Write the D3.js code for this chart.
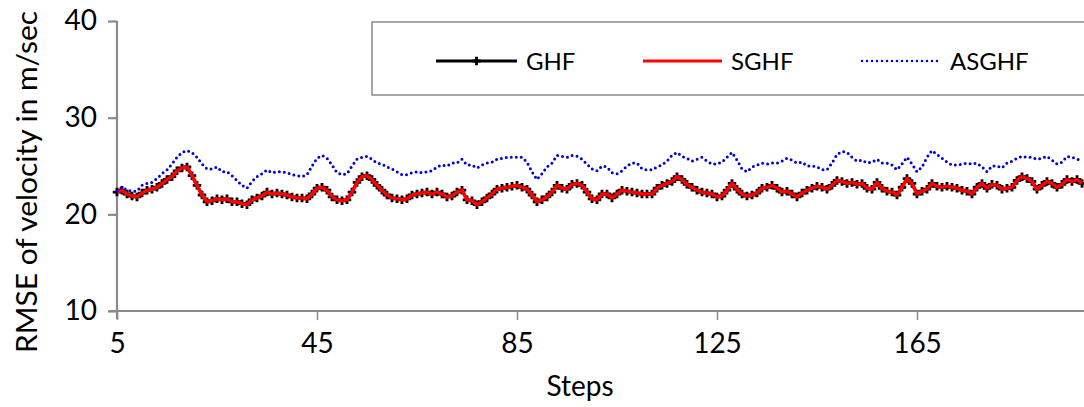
<!DOCTYPE html>
<html>
<head>
<meta charset="utf-8">
<script src="https://cdn.jsdelivr.net/npm/d3@7"></script>
<style>
  html, body { margin: 0; padding: 0; background: #fff; }
  svg { display: block; }
  text { font-family: Lato, "Open Sans", sans-serif; fill: #000; }
</style>
</head>
<body>
<svg id="chart" width="1084" height="407"></svg>
<script>
// Steps 5..198
const stepStart = 5;
const xTicks = [5, 45, 85, 125, 165];
const yTicks = [10, 20, 30, 40];
const seriesNames = ["GHF", "SGHF", "ASGHF"];

const ghf = [
  22.3, 22.5, 22.1, 21.9, 21.8, 22.2, 22.5, 22.6, 22.8, 23.2,
  23.6, 23.9, 24.5, 24.8, 24.9, 24.0, 23.0, 22.0, 21.3, 21.4,
  21.6, 21.5, 21.6, 21.3, 21.3, 21.1, 21.0, 21.5, 21.7, 21.9,
  22.3, 22.1, 22.2, 22.1, 22.0, 21.8, 21.7, 21.7, 21.6, 22.1,
  22.7, 22.8, 22.5, 21.8, 21.5, 21.4, 21.5, 22.3, 23.3, 23.9,
  24.0, 23.6, 23.0, 22.5, 22.0, 21.7, 21.6, 21.5, 21.6, 22.0,
  22.1, 22.2, 22.3, 22.1, 22.3, 22.1, 21.8, 21.9, 22.3, 22.5,
  21.5, 21.4, 21.0, 21.3, 21.7, 22.1, 22.6, 22.7, 22.8, 22.9,
  23.0, 22.8, 22.6, 22.0, 21.3, 21.5, 21.8, 22.3, 23.0, 22.7,
  22.6, 23.1, 23.2, 23.0, 22.3, 21.6, 21.5, 22.1, 22.1, 21.7,
  22.1, 22.5, 22.4, 22.3, 22.2, 22.1, 22.1, 22.1, 22.7, 23.0,
  23.2, 23.4, 23.9, 23.6, 23.1, 22.8, 22.5, 22.3, 22.2, 22.1,
  21.8, 21.9, 22.5, 23.2, 22.6, 22.1, 21.9, 22.0, 22.2, 22.7,
  22.8, 23.0, 22.7, 22.3, 22.4, 22.1, 21.8, 22.2, 22.5, 22.7,
  22.9, 22.8, 22.6, 23.0, 23.5, 23.4, 23.2, 23.3, 23.1, 23.2,
  22.7, 22.6, 23.3, 22.7, 22.4, 22.3, 22.0, 22.8, 23.7, 23.2,
  22.1, 22.4, 22.6, 23.2, 22.9, 22.8, 22.9, 22.8, 22.7, 22.5,
  22.4, 22.1, 22.8, 23.2, 22.7, 23.1, 23.0, 22.6, 22.7, 22.8,
  23.5, 23.9, 23.7, 23.4, 22.6, 23.0, 23.4, 23.2, 22.8, 23.1,
  23.6, 23.4, 23.6, 23.2
];

const sghf = [
  22.3, 22.5, 22.1, 21.9, 21.8, 22.2, 22.5, 22.6, 22.8, 23.2,
  23.6, 23.9, 24.5, 24.8, 24.9, 24.0, 23.0, 22.0, 21.3, 21.4,
  21.6, 21.5, 21.6, 21.3, 21.3, 21.1, 21.0, 21.5, 21.7, 21.9,
  22.3, 22.1, 22.2, 22.1, 22.0, 21.8, 21.7, 21.7, 21.6, 22.1,
  22.7, 22.8, 22.5, 21.8, 21.5, 21.4, 21.5, 22.3, 23.3, 23.9,
  24.0, 23.6, 23.0, 22.5, 22.0, 21.7, 21.6, 21.5, 21.6, 22.0,
  22.1, 22.2, 22.3, 22.1, 22.3, 22.1, 21.8, 21.9, 22.3, 22.5,
  21.5, 21.4, 21.0, 21.3, 21.7, 22.1, 22.6, 22.7, 22.8, 22.9,
  23.0, 22.8, 22.6, 22.0, 21.3, 21.5, 21.8, 22.3, 23.0, 22.7,
  22.6, 23.1, 23.2, 23.0, 22.3, 21.6, 21.5, 22.1, 22.1, 21.7,
  22.1, 22.5, 22.4, 22.3, 22.2, 22.1, 22.1, 22.1, 22.7, 23.0,
  23.2, 23.4, 23.9, 23.6, 23.1, 22.8, 22.5, 22.3, 22.2, 22.1,
  21.8, 21.9, 22.5, 23.2, 22.6, 22.1, 21.9, 22.0, 22.2, 22.7,
  22.8, 23.0, 22.7, 22.3, 22.4, 22.1, 21.8, 22.2, 22.5, 22.7,
  22.9, 22.8, 22.6, 23.0, 23.5, 23.4, 23.2, 23.3, 23.1, 23.2,
  22.7, 22.6, 23.3, 22.7, 22.4, 22.3, 22.0, 22.8, 23.7, 23.2,
  22.1, 22.4, 22.6, 23.2, 22.9, 22.8, 22.9, 22.8, 22.7, 22.5,
  22.4, 22.1, 22.8, 23.2, 22.7, 23.1, 23.0, 22.6, 22.7, 22.8,
  23.5, 23.9, 23.7, 23.4, 22.6, 23.0, 23.4, 23.2, 22.8, 23.1,
  23.6, 23.4, 23.6, 23.2
];

const asghf = [
  22.4, 22.8, 22.5, 22.4, 22.4, 23.0, 23.2, 23.3, 23.7, 24.2,
  24.6, 25.2, 25.9, 26.4, 26.6, 26.4, 25.9, 25.2, 24.7, 24.7,
  24.9, 24.4, 24.4, 24.0, 23.5, 23.0, 22.7, 23.4, 23.9, 24.2,
  24.6, 24.3, 24.4, 24.4, 24.3, 24.1, 24.0, 23.9, 24.1, 25.0,
  25.8, 26.1, 25.8, 25.1, 24.3, 24.1, 24.2, 25.0, 25.7, 25.9,
  26.0, 25.7, 25.3, 25.2, 24.9, 24.7, 24.4, 24.1, 24.1, 24.3,
  24.4, 24.3, 24.4, 24.5, 24.9, 25.1, 25.0, 25.3, 25.3, 25.7,
  25.1, 25.1, 24.8, 25.1, 25.3, 25.4, 25.7, 25.8, 25.9, 25.9,
  25.9, 25.9, 25.4, 24.4, 23.6, 24.2, 24.9, 25.3, 26.1, 26.0,
  25.9, 26.1, 26.0, 25.7, 25.2, 24.7, 24.5, 25.0, 24.9, 24.3,
  24.2, 24.5, 25.0, 25.3, 25.3, 24.7, 24.6, 24.6, 24.9, 25.1,
  25.5, 26.1, 26.4, 26.0, 25.8, 25.5, 25.7, 25.9, 25.5, 25.2,
  25.2, 25.4, 25.9, 26.4, 25.6, 24.7, 24.4, 24.9, 25.1, 25.3,
  25.2, 25.3, 25.3, 25.5, 25.8, 25.6, 25.3, 25.4, 25.0, 25.0,
  24.9, 24.6, 24.6, 25.3, 26.2, 26.5, 26.4, 25.9, 25.5, 25.6,
  25.3, 25.4, 25.7, 25.3, 25.3, 25.1, 24.6, 25.2, 25.9, 25.2,
  24.4, 24.9, 25.9, 26.6, 26.2, 25.8, 25.4, 25.1, 25.1, 25.2,
  25.3, 25.2, 25.3, 24.9, 24.4, 25.0, 25.0, 24.8, 25.3, 25.5,
  25.8, 26.0, 25.9, 25.9, 25.7, 25.8, 26.0, 25.6, 25.2, 25.4,
  26.0, 25.9, 25.7, 25.6
];

const svg = d3.select("#chart");
const plot = { left: 117, top: 21, bottom: 311, right: 1084 };

const x = d3.scaleLinear()
  .domain([stepStart, stepStart + (plot.right - plot.left) / 5])
  .range([plot.left, plot.right]);
const y = d3.scaleLinear().domain([10, 40]).range([plot.bottom, plot.top]);

const toPoints = arr => arr.map((v, i) => [stepStart + i, v]);
const line = d3.line().x(d => x(d[0])).y(d => y(d[1]));

const axisColor = "#8a8a8a";
const tickFont = "28px";

// Y axis
const yAxis = svg.append("g")
  .attr("transform", `translate(${plot.left},0)`)
  .call(d3.axisLeft(y).tickValues(yTicks).tickSize(9).tickPadding(11).tickFormat(d3.format("d")));
yAxis.select(".domain").attr("stroke", axisColor).attr("stroke-width", 2.2)
  .attr("d", `M0,${plot.top}V${plot.bottom + 8}`);
yAxis.selectAll(".tick line").attr("stroke", axisColor).attr("stroke-width", 2.2);
yAxis.selectAll(".tick text").style("font-size", tickFont).attr("fill", "#000");

// X axis
const xAxis = svg.append("g")
  .attr("transform", `translate(0,${plot.bottom})`)
  .call(d3.axisBottom(x).tickValues(xTicks).tickSize(9).tickPadding(13).tickFormat(d3.format("d")));
xAxis.select(".domain").attr("stroke", axisColor).attr("stroke-width", 2.2)
  .attr("d", `M${plot.left - 8},0H${plot.right}`);
xAxis.selectAll(".tick line").attr("stroke", axisColor).attr("stroke-width", 1.5);
xAxis.selectAll(".tick text").style("font-size", tickFont).attr("fill", "#000");

// Axis titles
svg.append("text")
  .attr("x", 580).attr("y", 396)
  .attr("text-anchor", "middle")
  .style("font-size", "28px")
  .text("Steps");
svg.append("text")
  .attr("transform", `translate(37,182) rotate(-90)`)
  .attr("text-anchor", "middle")
  .attr("textLength", 342)
  .attr("lengthAdjust", "spacingAndGlyphs")
  .style("font-size", "29px")
  .text("RMSE of velocity in m/sec");

// Series
const g = svg.append("g");
const ghfPts = toPoints(ghf);

g.append("path").datum(ghfPts)
  .attr("fill", "none").attr("stroke", "#000").attr("stroke-width", 3)
  .attr("d", line);

const cross = d3.symbol().type(d3.symbolCross).size(40);
g.selectAll(".ghf-mark").data(ghfPts).enter().append("path")
  .attr("class", "ghf-mark")
  .attr("transform", d => `translate(${x(d[0])},${y(d[1])})`)
  .attr("d", cross)
  .attr("fill", "#000");

g.append("path").datum(toPoints(sghf))
  .attr("fill", "none").attr("stroke", "#ff0000").attr("stroke-width", 3.5)
  .attr("stroke-linejoin", "round")
  .attr("d", line);

g.append("path").datum(toPoints(asghf))
  .attr("fill", "none").attr("stroke", "#0000dd").attr("stroke-width", 3)
  .attr("stroke-linecap", "round")
  .attr("stroke-dasharray", "0 5")
  .attr("d", line);

// Legend
const legend = svg.append("g");
legend.append("rect")
  .attr("x", 372).attr("y", 22).attr("width", 760).attr("height", 73)
  .attr("fill", "#fff").attr("stroke", axisColor).attr("stroke-width", 1.5);

const legendItems = [
  { name: seriesNames[0], x0: 436, x1: 517, tx: 526 },
  { name: seriesNames[1], x0: 643, x1: 722, tx: 731 },
  { name: seriesNames[2], x0: 862, x1: 940, tx: 950 }
];
const ly = 61;
// GHF
legend.append("line").attr("x1", legendItems[0].x0).attr("x2", legendItems[0].x1)
  .attr("y1", ly).attr("y2", ly).attr("stroke", "#000").attr("stroke-width", 3);
legend.append("path")
  .attr("transform", `translate(${(legendItems[0].x0 + legendItems[0].x1) / 2},${ly})`)
  .attr("d", cross).attr("fill", "#000");
// SGHF
legend.append("line").attr("x1", legendItems[1].x0).attr("x2", legendItems[1].x1)
  .attr("y1", ly).attr("y2", ly).attr("stroke", "#ff0000").attr("stroke-width", 3);
// ASGHF
legend.append("line").attr("x1", legendItems[2].x0).attr("x2", legendItems[2].x1)
  .attr("y1", ly).attr("y2", ly).attr("stroke", "#0000dd").attr("stroke-width", 2.5)
  .attr("stroke-linecap", "round").attr("stroke-dasharray", "0 5");

legendItems.forEach(it => {
  legend.append("text").attr("x", it.tx).attr("y", ly + 9)
    .style("font-size", "24px").text(it.name);
});
</script>
</body>
</html>
